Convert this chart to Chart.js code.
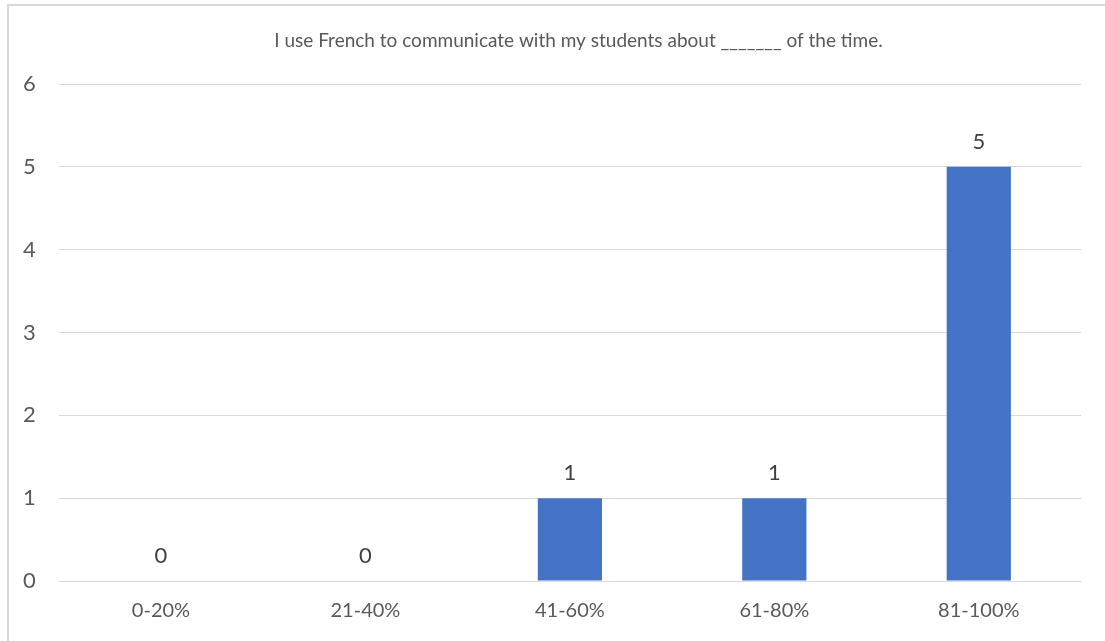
<!DOCTYPE html>
<html>
<head>
<meta charset="utf-8">
<script src="https://cdn.jsdelivr.net/npm/chart.js@4/dist/chart.umd.min.js"></script>
<style>
  html, body { margin: 0; padding: 0; background: #fff; }
  #wrap { position: relative; width: 1105px; height: 641px; overflow: hidden; }
  #frame {
    position: absolute; left: 7px; top: 4px; width: 1200px; height: 700px;
    border-left: 2px solid #d9d9d9; border-top: 2px solid #d9d9d9;
    box-sizing: border-box;
  }
  #chart { position: absolute; left: 0; top: 0; }
</style>
</head>
<body>
<div id="wrap">
  <div id="frame"></div>
  <canvas id="chart" width="1105" height="641"></canvas>
</div>
<script>
// Survey responses per band
const categories = ["0-20%", "21-40%", "41-60%", "61-80%", "81-100%"];
const counts = [0, 0, 1, 1, 5];
const yTicks = [0, 1, 2, 3, 4, 5, 6];
const titleText = "I use French to communicate with my students about _______ of the time.";

const fontFamily = "Lato, 'Open Sans', sans-serif";
const textColor = "#595959";

// Title is centred on the outer frame, which runs past the canvas edge
const chartTitle = {
  id: "chartTitle",
  afterDraw(chart) {
    const ctx = chart.ctx;
    ctx.save();
    ctx.font = "19px " + fontFamily;
    ctx.fillStyle = textColor;
    ctx.textAlign = "center";
    ctx.textBaseline = "middle";
    ctx.fillText(titleText, chart.width / 2 + 26, 41);
    ctx.restore();
  }
};

// Value labels drawn above each bar
const barLabels = {
  id: "barLabels",
  afterDatasetsDraw(chart) {
    const ctx = chart.ctx;
    const meta = chart.getDatasetMeta(0);
    ctx.save();
    ctx.font = "22px " + fontFamily;
    ctx.fillStyle = "#404040";
    ctx.textAlign = "center";
    ctx.textBaseline = "middle";
    meta.data.forEach((bar, i) => {
      ctx.fillText(String(counts[i]), bar.x, bar.y - 25);
    });
    ctx.restore();
  }
};

new Chart(document.getElementById("chart"), {
  type: "bar",
  data: {
    labels: categories,
    datasets: [{
      data: counts,
      backgroundColor: "#4472C4",
      barPercentage: 1,
      categoryPercentage: 0.314
    }]
  },
  options: {
    responsive: false,
    animation: false,
    layout: { padding: { left: 0, right: 24, top: 84, bottom: 0 } },
    plugins: {
      legend: { display: false },
      tooltip: { enabled: false },
      title: { display: false }
    },
    scales: {
      y: {
        min: 0,
        max: 6,
        afterBuildTicks(scale) {
          scale.ticks = yTicks.map(v => ({ value: v }));
        },
        border: { display: false },
        grid: { color: "#d9d9d9", lineWidth: 1, drawTicks: false },
        ticks: {
          color: textColor,
          font: { family: fontFamily, size: 22 },
          padding: 23
        }
      },
      x: {
        border: { display: false },
        grid: { display: false, drawTicks: false },
        ticks: {
          color: textColor,
          font: { family: fontFamily, size: 20 },
          padding: 18
        }
      }
    }
  },
  plugins: [barLabels, chartTitle]
});
</script>
</body>
</html>
